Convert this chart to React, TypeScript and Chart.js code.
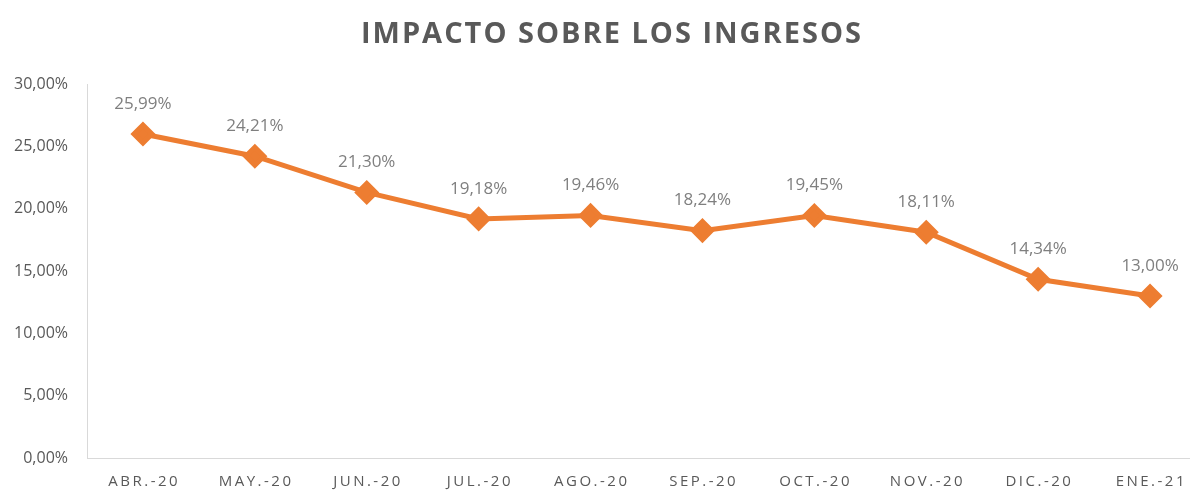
import React, { useEffect, useRef } from "react";
import { Chart, registerables } from "chart.js";

Chart.register(...registerables);

const TITLE = "IMPACTO SOBRE LOS INGRESOS";
const categories = ["ABR.-20", "MAY.-20", "JUN.-20", "JUL.-20", "AGO.-20", "SEP.-20", "OCT.-20", "NOV.-20", "DIC.-20", "ENE.-21"];
const values = [25.99, 24.21, 21.3, 19.18, 19.46, 18.24, 19.45, 18.11, 14.34, 13.0];
const yMin = 0;
const yMax = 30;
const yStep = 5;

const fmt = (v: number) => v.toFixed(2).replace(".", ",") + "%";

const titlePlugin = {
  id: "customTitle",
  afterDraw(chart: any) {
    const ctx = chart.ctx;
    ctx.save();
    ctx.font = "bold 29px 'Open Sans'";
    ctx.fillStyle = "#595959";
    (ctx as any).letterSpacing = "2px";
    ctx.textAlign = "center";
    ctx.textBaseline = "middle";
    ctx.fillText(TITLE, 612, 35);
    ctx.restore();
  },
};

const labelPlugin = {
  id: "dataLabels",
  afterDatasetsDraw(chart: any) {
    const ctx = chart.ctx;
    const meta = chart.getDatasetMeta(0);
    ctx.save();
    ctx.font = "17px 'Open Sans'";
    ctx.fillStyle = "#7f7f7f";
    ctx.textAlign = "center";
    ctx.textBaseline = "middle";
    meta.data.forEach((pt: any, i: number) => {
      ctx.fillText(fmt(values[i]), pt.x, pt.y - 30);
    });
    ctx.restore();
  },
};

export default function App() {
  const ref = useRef<HTMLCanvasElement>(null);
  useEffect(() => {
    if (!ref.current) return;
    const chart = new Chart(ref.current, {
      type: "line",
      data: {
        labels: categories,
        datasets: [
          {
            data: values,
            borderColor: "#ED7D31",
            backgroundColor: "#ED7D31",
            borderWidth: 5,
            pointStyle: "rectRot",
            pointRadius: 9,
            pointHoverRadius: 9,
            tension: 0,
          },
        ],
      },
      options: {
        responsive: false,
        animation: false,
        layout: { padding: { top: 84, right: 0, left: 0, bottom: 0 } },
        plugins: { legend: { display: false }, title: { display: false }, tooltip: { enabled: false } },
        scales: {
          x: {
            offset: true,
            grid: { display: false, drawTicks: false },
            border: { display: true, color: "#d9d9d9", width: 1 },
            ticks: {
              padding: 15,
              color: "#595959",
              font: { family: "'Open Sans'", size: 15 },
              maxRotation: 0,
              autoSkip: false,
              callback: (_v: any, i: number) => categories[i].split("").join("\u2009"),
            },
            afterFit: (s: any) => {
              s.height = 33;
            },
          },
          y: {
            min: yMin,
            max: yMax,
            grid: { display: false, drawTicks: false },
            border: { display: true, color: "#d9d9d9", width: 1 },
            ticks: {
              stepSize: yStep,
              padding: 19,
              color: "#595959",
              font: { family: "'Open Sans'", size: 16 },
              callback: (v: any) => fmt(Number(v)),
            },
            afterFit: (s: any) => {
              s.width = 87;
            },
          },
        },
      },
      plugins: [titlePlugin, labelPlugin],
    });
    return () => chart.destroy();
  }, []);
  return (
    <div style={{ position: "fixed", left: 0, top: 0, width: 1190, height: 491, overflow: "hidden", background: "#fff" }}>
      <div style={{ width: 1220, height: 491 }}>
        <canvas ref={ref} width={1220} height={491} style={{ display: "block", width: 1220, height: 491 }} />
      </div>
    </div>
  );
}
